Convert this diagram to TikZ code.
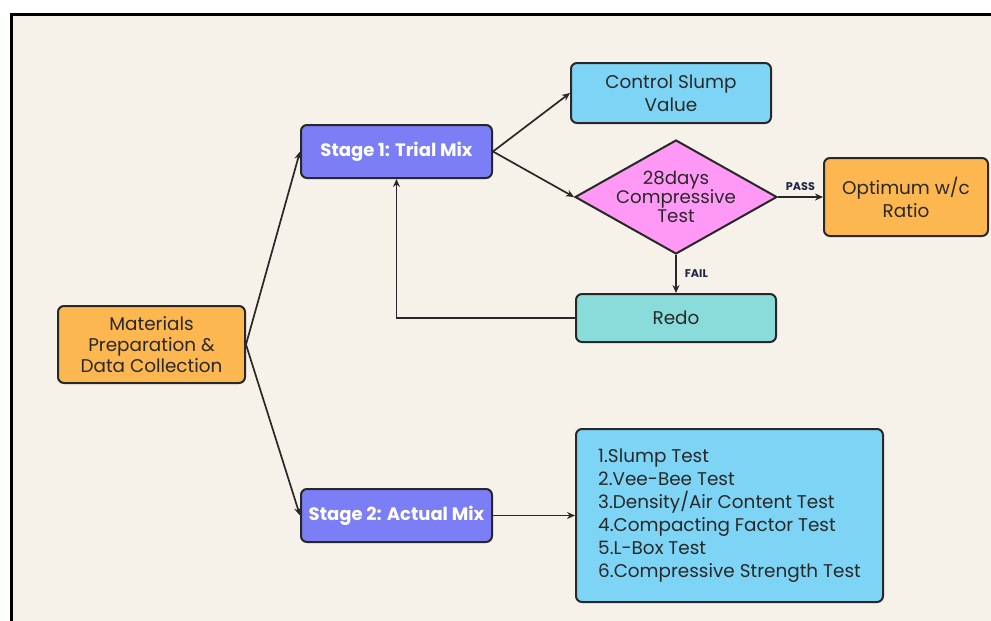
\documentclass[tikz,border=0pt]{standalone}
\usepackage{fontspec}
\setmainfont{Poppins}
\usetikzlibrary{arrows.meta,shapes.geometric,positioning}
\definecolor{cream}{RGB}{246,242,234}
\definecolor{boxorange}{RGB}{253,183,80}
\definecolor{stagepurple}{RGB}{123,126,245}
\definecolor{skyblue}{RGB}{126,212,245}
\definecolor{testpink}{RGB}{255,153,245}
\definecolor{redoteal}{RGB}{138,220,218}
\definecolor{inkdark}{RGB}{40,40,40}
\definecolor{tagnavy}{RGB}{30,40,70}

\begin{document}
\begin{tikzpicture}[x=0.5pt,y=-0.5pt,
  box/.style={draw=inkdark, line width=1pt, rounded corners=3pt, inner sep=0pt,
    align=center, text=inkdark, font=\fontsize{9.2}{11.5}\selectfont},
  stagebox/.style={box, fill=stagepurple, text=white,
    font=\bfseries\fontsize{9}{10}\selectfont, minimum width=95.5pt, minimum height=26.5pt},
  decision/.style={diamond, draw=inkdark, line width=1pt, fill=testpink, inner sep=0pt,
    minimum width=101pt, minimum height=57pt},
  flow/.style={draw=inkdark, line width=0.85pt, -{Stealth[length=4pt,width=3.5pt]}},
  tag/.style={font=\bfseries\fontsize{5.6}{6}\selectfont, text=tagnavy, inner sep=1pt}]
  \useasboundingbox (0,0) rectangle (991,621);
  \fill[white] (0,0) rectangle (991,621);
  \fill[cream] (11,14) rectangle (991,621);
  \draw[line width=1.5pt, black] (991,14) -- (11,14) -- (11,621);

  % boxes
  \node[box, fill=boxorange, minimum width=93.5pt, minimum height=38.5pt,
    font=\fontsize{9.2}{10.3}\selectfont] (mat) at (151.5,344.5)
    {Materials\\Preparation \&\\Data Collection};
  \node[stagebox] (stage1) at (396.5,151.5) {Stage 1: Trial Mix};
  \node[stagebox] (stage2) at (396.5,515.5) {Stage 2: Actual Mix};
  \node[box, fill=skyblue, minimum width=100pt, minimum height=30pt] (slump) at (671,93)
    {Control Slump\\Value};
  \node[decision] (test) at (676,197) {};
  \node[align=center, text=inkdark, font=\fontsize{9.1}{9.6}\selectfont] (testtxt) at (test.center)
    {28days\\Compressive\\Test};
  \node[box, fill=boxorange, minimum width=82pt, minimum height=39pt] (opt) at (906,197)
    {Optimum w/c\\Ratio};
  \node[box, fill=redoteal, minimum width=100pt, minimum height=24pt] (redo) at (676,318) {Redo};
  \node[box, fill=skyblue, minimum width=153.5pt, minimum height=86.5pt, align=left] (tests) at (729.5,515.5)
    {1.Slump Test\\2.Vee-Bee Test\\3.Density/Air Content Test\\4.Compacting Factor Test\\5.L-Box Test\\6.Compressive Strength Test};

  % connectors
  \draw[flow] (mat.east) -- (stage1.west);
  \draw[flow] (mat.east) -- (stage2.west);
  \draw[flow] (stage1.east) -- (slump.west);
  \draw[flow] (stage1.east) -- (test.west);
  \draw[flow] (test.east) -- node[tag, above=2pt] {PASS} (opt.west);
  \draw[flow] (test.south) -- node[tag, right=3pt] {FAIL} (redo.north);
  \draw[flow] (redo.west) -| (stage1.south);
  \draw[flow] (stage2.east) -- (tests.west);
\end{tikzpicture}
\end{document}
